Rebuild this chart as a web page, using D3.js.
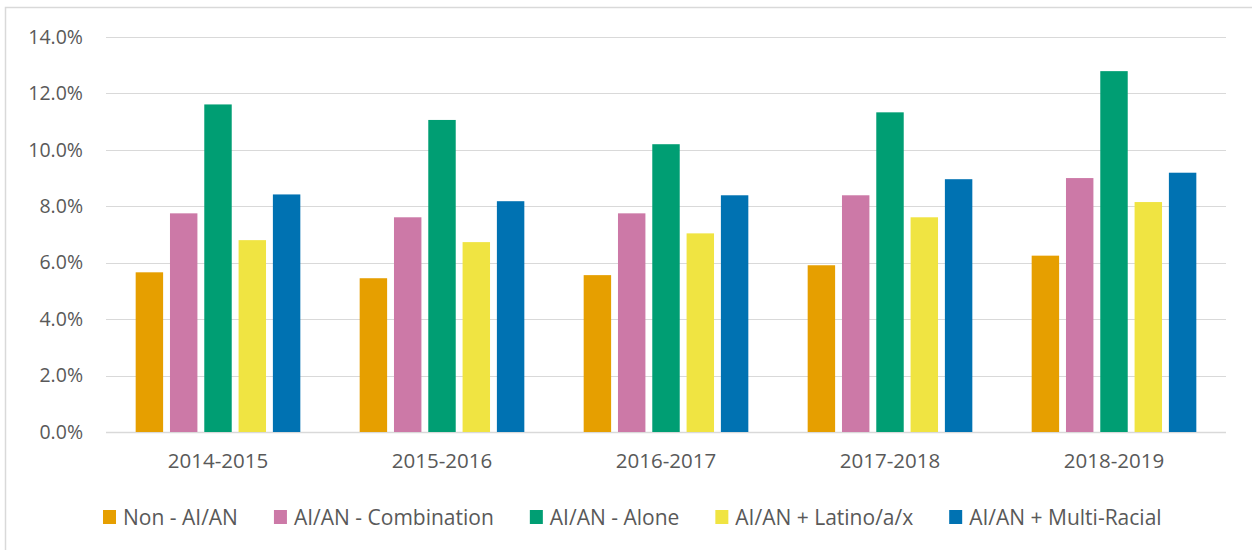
<!DOCTYPE html>
<html>
<head>
<meta charset="utf-8">
<script src="https://cdn.jsdelivr.net/npm/d3@7"></script>
<style>
  body { margin: 0; background: #fff; }
  svg { display: block; font-family: "Open Sans", sans-serif; }
</style>
</head>
<body>
<div id="canvas"></div>
<script>
const width = 1252;
const height = 550;

// data
const years = ["2014-2015", "2015-2016", "2016-2017", "2017-2018", "2018-2019"];
const seriesNames = ["Non - AI/AN", "AI/AN - Combination", "AI/AN - Alone", "AI/AN + Latino/a/x", "AI/AN + Multi-Racial"];
const nonAian      = [5.66, 5.45, 5.56, 5.91, 6.25];
const combination  = [7.75, 7.61, 7.75, 8.39, 9.00];
const alone        = [11.61, 11.06, 10.20, 11.33, 12.79];
const latino       = [6.80, 6.73, 7.04, 7.61, 8.15];
const multiRacial  = [8.42, 8.18, 8.39, 8.96, 9.19];
const yTicks = [0, 2, 4, 6, 8, 10, 12, 14];
const colors = ["#E69F00", "#CC79A7", "#009E73", "#F0E442", "#0072B2"];

const seriesValues = [nonAian, combination, alone, latino, multiRacial];

const svg = d3.select("#canvas")
    .append("svg")
    .attr("width", width)
    .attr("height", height);

// chart frame
svg.append("rect")
    .attr("x", 5.5)
    .attr("y", 7.5)
    .attr("width", 1300)
    .attr("height", 600)
    .attr("fill", "none")
    .attr("stroke", "#d9d9d9")
    .attr("stroke-width", 1.5);

const plotLeft = 106, plotRight = 1226, plotTop = 37, plotBottom = 432;

const y = d3.scaleLinear().domain([0, 14]).range([plotBottom, plotTop]);
const x0 = d3.scaleBand().domain(years).range([plotLeft, plotRight]);
const x1 = d3.scaleBand().domain(seriesNames)
    .range([0, x0.bandwidth()])
    .paddingInner(0.2)
    .paddingOuter(0.865);

// gridlines
svg.append("g")
    .selectAll("line")
    .data(yTicks)
    .join("line")
    .attr("x1", plotLeft)
    .attr("x2", plotRight)
    .attr("y1", d => Math.round(y(d)) + 0.5)
    .attr("y2", d => Math.round(y(d)) + 0.5)
    .attr("stroke", "#d9d9d9")
    .attr("stroke-width", d => d === 0 ? 1.5 : 1.2);

// y axis labels
const yAxis = d3.axisLeft(y).tickValues(yTicks).tickSize(0).tickPadding(23)
    .tickFormat(d => d.toFixed(1) + "%");
const yg = svg.append("g").attr("transform", `translate(${plotLeft},0)`).call(yAxis);
yg.select(".domain").remove();
yg.selectAll("text").attr("fill", "#595959").style("font-size", "19.5px").style("font-family", "'Open Sans', sans-serif");

// bars
const groups = svg.append("g")
    .selectAll("g")
    .data(years)
    .join("g")
    .attr("transform", d => `translate(${x0(d)},0)`);

groups.selectAll("rect")
    .data((d, i) => seriesNames.map((s, j) => ({ s: s, v: seriesValues[j][i], c: colors[j] })))
    .join("rect")
    .attr("x", d => x1(d.s))
    .attr("width", x1.bandwidth())
    .attr("y", d => y(d.v))
    .attr("height", d => y(0) - y(d.v))
    .attr("fill", d => d.c);

// x axis labels
const xAxis = d3.axisBottom(x0).tickSize(0).tickPadding(21);
const xg = svg.append("g").attr("transform", `translate(0,${plotBottom})`).call(xAxis);
xg.select(".domain").remove();
xg.selectAll("text").attr("fill", "#595959").style("font-size", "20.5px").style("font-family", "'Open Sans', sans-serif");

// legend
const legend = svg.append("g");
let lx = 103;
seriesNames.forEach((name, i) => {
    legend.append("rect")
        .attr("x", lx)
        .attr("y", 510)
        .attr("width", 13)
        .attr("height", 14)
        .attr("fill", colors[i]);
    const t = legend.append("text")
        .attr("x", lx + 20)
        .attr("y", 525)
        .attr("fill", "#595959")
        .style("font-size", "21px")
        .text(name);
    lx += 20 + t.node().getComputedTextLength() + 36;
});
</script>
</body>
</html>
